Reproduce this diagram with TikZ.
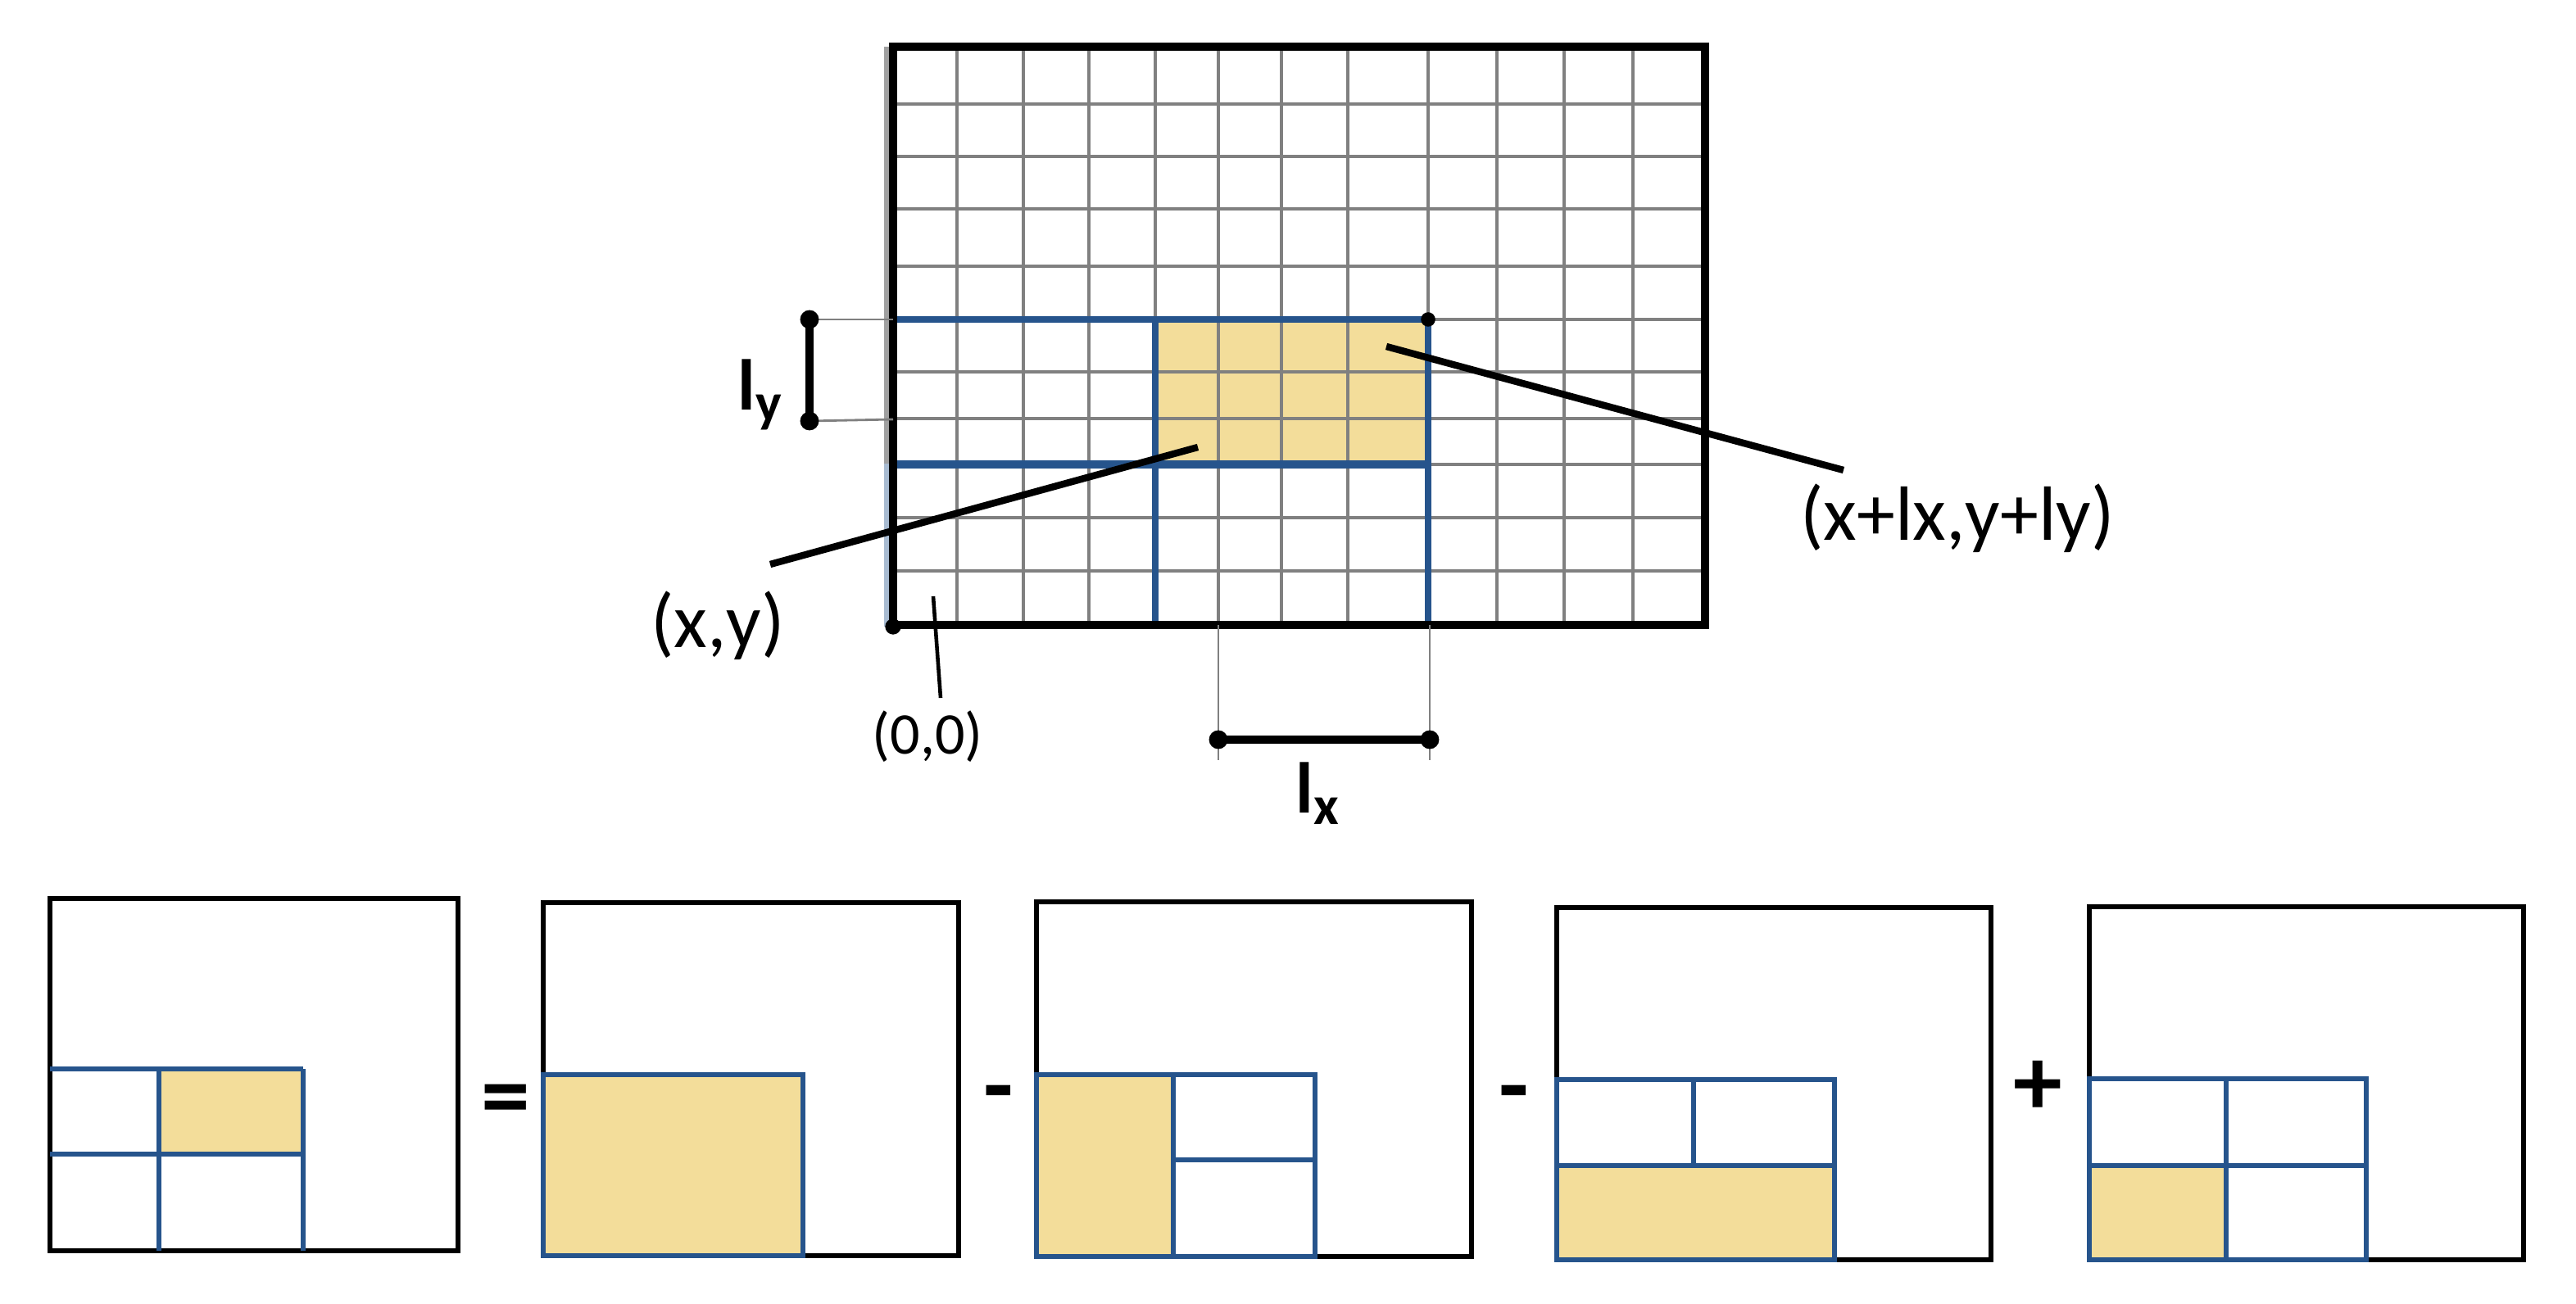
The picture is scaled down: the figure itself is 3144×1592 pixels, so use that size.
\documentclass[tikz,border=0pt]{standalone}
\usepackage{fontspec}
\setmainfont{Carlito}
\definecolor{cellfill}{RGB}{243,221,154}
\definecolor{gblue}{RGB}{38,84,140}
\definecolor{ggray}{RGB}{128,128,128}
\begin{document}
\begin{tikzpicture}[x=0.01cm,y=-0.01cm,
  gridline/.style={ggray, line width=0.9pt},
  frame/.style={black, line width=2.6pt},
  blueline/.style={gblue, line width=2pt},
  dimline/.style={black, line width=2.6pt},
  extline/.style={ggray, line width=0.8pt},
  leader/.style={black, line width=2.4pt},
  pframe/.style={black, line width=1.7pt},
  pblue/.style={gblue, line width=1.7pt},
  lab/.style={inner sep=0pt, font=\fontsize{26.7}{32}\selectfont},
  dimlab/.style={inner sep=0pt, anchor=base west, font=\bfseries\fontsize{25}{30}\selectfont},
  sign/.style={inner sep=0pt, anchor=base, font=\bfseries\fontsize{34}{40}\selectfont},
  dot/.style={circle, fill=black, inner sep=0pt, minimum size=#1}
]
\fill[white] (0,0) rectangle (3144,1592);
\useasboundingbox (0,0) rectangle (3144,1592);

% ---------- top grid ----------
\fill[cellfill] (1410,390) rectangle (1743,567);
\foreach \gx in {1168,1249,1329,1410,1487,1564,1645,1743,1827,1909,1993}
  \draw[gridline] (\gx,57) -- (\gx,763);
\foreach \gy in {127,191,255,325,390,454,511,567,632,697}
  \draw[gridline] (1090,\gy) -- (2081,\gy);
% left side strip
\draw[line width=1.6pt, ggray!75] (1082,57) -- (1082,566);
\draw[line width=1.6pt, gblue!40] (1082,566) -- (1082,765);
% blue sub-rectangles
\draw[blueline] (1090,390) -- (1743,390);
\draw[blueline, line width=3pt] (1090,567) -- (1743,567);
\draw[blueline] (1410,390) -- (1410,763);
\draw[blueline] (1743,390) -- (1743,763);
% frame
\draw[frame] (1090,57) rectangle (2081,763);

% dimension ly
\coordinate (lyA) at (988,390);
\coordinate (lyB) at (988,514);
\draw[extline] (1090,390) -- (lyA);
\draw[extline] (1090,512) -- (lyB);
\draw[dimline] (lyA) -- (lyB);
\node[dot=6.5pt] (lyDa) at (lyA) {};
\node[dot=6.5pt] (lyDb) at (lyB) {};
\node[dimlab] (lylab) at (900,501) {l\raisebox{-0.15em}{\fontsize{19}{22}\selectfont y}};

% dimension lx
\coordinate (lxA) at (1487,903);
\coordinate (lxB) at (1745,903);
\draw[extline] (1487,763) -- (1487,928);
\draw[extline] (1745,763) -- (1745,928);
\draw[dimline] (lxA) -- (lxB);
\node[dot=6.5pt] (lxDa) at (lxA) {};
\node[dot=6.5pt] (lxDb) at (lxB) {};
\node[dimlab] (lxlab) at (1581,993) {l\raisebox{-0.15em}{\fontsize{19}{22}\selectfont x}};

% corner dots
\node[dot=5pt] (cTR) at (1743,390) {};
\node[dot=5.5pt] (cO) at (1090,765) {};

% labels and leaders
\node[lab] (pxy) at (876,764) {(x,y)};
\node[lab] (pxyl) at (2389,633) {(x+lx,y+ly)};
\node[inner sep=0pt, font=\fontsize{20.5}{24}\selectfont] (p00) at (1132,899) {(0,0)};
\coordinate (lA) at (940,689);
\coordinate (lB) at (1462,546);
\draw[leader] (lA) -- (lB);
\coordinate (rA) at (1692,423);
\coordinate (rB) at (2250,574);
\draw[leader] (rA) -- (rB);
\coordinate (oA) at (1139,728);
\coordinate (oB) at (1148,852);
\draw[black, line width=1.3pt] (oA) -- (oB);

% ---------- bottom panels ----------
% panel 1
\fill[cellfill] (194,1305) rectangle (370,1409);
\draw[pframe] (61,1097) rectangle (559,1527);
\draw[pblue] (61,1305) -- (370,1305) (61,1409) -- (370,1409)
  (194,1305) -- (194,1527) (370,1305) -- (370,1527);
\node[sign] (eq) at (617,1378) {=};

% panel 2
\fill[cellfill] (663,1312) rectangle (980,1533);
\draw[pframe] (663,1102) rectangle (1170,1533);
\draw[pblue] (663,1312) rectangle (980,1533);
\node[sign] (m1) at (1219,1366) {-};

% panel 3
\fill[cellfill] (1265,1312) rectangle (1432,1534);
\draw[pframe] (1265,1101) rectangle (1796,1534);
\draw[pblue] (1265,1312) rectangle (1605,1534) (1432,1312) -- (1432,1534)
  (1432,1416) -- (1605,1416);
\node[sign] (m2) at (1848,1366) {-};

% panel 4
\fill[cellfill] (1900,1423) rectangle (2239,1538);
\draw[pframe] (1900,1108) rectangle (2430,1538);
\draw[pblue] (1900,1318) rectangle (2239,1538) (1900,1423) -- (2239,1423)
  (2067,1318) -- (2067,1423);
\node[sign] (pl) at (2487,1362) {+};

% panel 5
\fill[cellfill] (2550,1423) rectangle (2717,1538);
\draw[pframe] (2550,1107) rectangle (3080,1538);
\draw[pblue] (2550,1317) rectangle (2888,1538) (2550,1423) -- (2888,1423)
  (2717,1317) -- (2717,1538);
\end{tikzpicture}
\end{document}
